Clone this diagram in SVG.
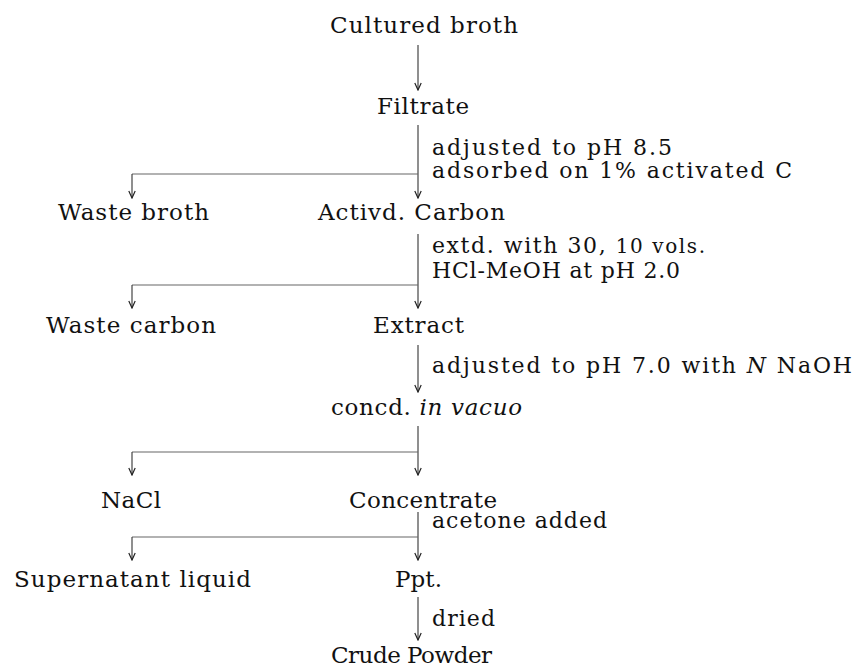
<svg xmlns="http://www.w3.org/2000/svg" width="853" height="667" viewBox="0 0 853 667">
<style>
text{font-family:"DejaVu Serif","Liberation Serif",serif;font-size:23px;fill:#111;}
.lbl{font-size:22px;}
.v{stroke:#333;stroke-width:1.1;fill:none;}
.h{stroke:#666;stroke-width:1.1;fill:none;}
.a{marker-end:url(#ah);}
</style>
<defs>
<marker id="ah" viewBox="-8 -5 9 10" refX="0" refY="0" markerWidth="9" markerHeight="10" markerUnits="userSpaceOnUse" orient="auto">
<path d="M-7,-3.2 L0,0 L-7,3.2" fill="none" stroke="#222" stroke-width="1.2"/>
</marker>
</defs>
<rect width="853" height="667" fill="#fff"/>
<g id="connectors">
<line class="v a" x1="418" y1="45" x2="418" y2="90"/>
<line class="v a" x1="418" y1="125" x2="418" y2="198"/>
<line class="h" x1="132" y1="174" x2="418" y2="174"/>
<line class="v a" x1="132" y1="174" x2="132" y2="198"/>
<line class="v a" x1="418" y1="234" x2="418" y2="308"/>
<line class="h" x1="132" y1="285" x2="418" y2="285"/>
<line class="v a" x1="132" y1="285" x2="132" y2="308"/>
<line class="v a" x1="418" y1="345" x2="418" y2="392"/>
<line class="v a" x1="418" y1="426" x2="418" y2="475"/>
<line class="h" x1="132" y1="452" x2="418" y2="452"/>
<line class="v a" x1="132" y1="452" x2="132" y2="475"/>
<line class="v a" x1="418" y1="512" x2="418" y2="560"/>
<line class="h" x1="132" y1="537" x2="418" y2="537"/>
<line class="v a" x1="132" y1="537" x2="132" y2="560"/>
<line class="v a" x1="418" y1="597" x2="418" y2="640"/>
</g>
<g id="labels">
<text class="lbl" x="432" y="155" textLength="240" lengthAdjust="spacing">adjusted to pH 8.5</text>
<text class="lbl" x="432" y="178" textLength="360" lengthAdjust="spacing">adsorbed on 1% activated C</text>
<text class="lbl" x="432" y="253" textLength="273" lengthAdjust="spacing">extd. with 30, <tspan font-size="20">10 vols.</tspan></text>
<text class="lbl" x="432" y="278" textLength="248" lengthAdjust="spacing">HCl-MeOH at pH 2.0</text>
<text class="lbl" x="432" y="373" textLength="420" lengthAdjust="spacing">adjusted to pH 7.0 with <tspan font-style="italic">N</tspan> NaOH</text>
<text class="lbl" x="432" y="528" textLength="175" lengthAdjust="spacing">acetone added</text>
<text class="lbl" x="432" y="626" textLength="63" lengthAdjust="spacing">dried</text>
</g>
<g id="n-cultured"><text x="330" y="33" textLength="188" lengthAdjust="spacing">Cultured broth</text></g>
<g id="n-filtrate"><text x="377" y="114" textLength="92" lengthAdjust="spacing">Filtrate</text></g>
<g id="n-wastebroth"><text x="58" y="220" textLength="151" lengthAdjust="spacing">Waste broth</text></g>
<g id="n-carbon"><text x="318" y="220" textLength="187" lengthAdjust="spacing">Activd. Carbon</text></g>
<g id="n-wastecarbon"><text x="46" y="333" textLength="170" lengthAdjust="spacing">Waste carbon</text></g>
<g id="n-extract"><text x="373" y="333" textLength="91" lengthAdjust="spacing">Extract</text></g>
<g id="n-concd"><text x="331" y="415" textLength="191" lengthAdjust="spacing">concd. <tspan font-style="italic">in vacuo</tspan></text></g>
<g id="n-nacl"><text x="101" y="508" textLength="60" lengthAdjust="spacing">NaCl</text></g>
<g id="n-concentrate"><text x="349" y="508" textLength="148" lengthAdjust="spacing">Concentrate</text></g>
<g id="n-supernatant"><text x="14" y="587" textLength="237" lengthAdjust="spacing">Supernatant liquid</text></g>
<g id="n-ppt"><text x="395" y="587" textLength="47" lengthAdjust="spacing">Ppt.</text></g>
<g id="n-crude"><text x="331" y="663" textLength="161" lengthAdjust="spacing">Crude Powder</text></g>
</svg>
